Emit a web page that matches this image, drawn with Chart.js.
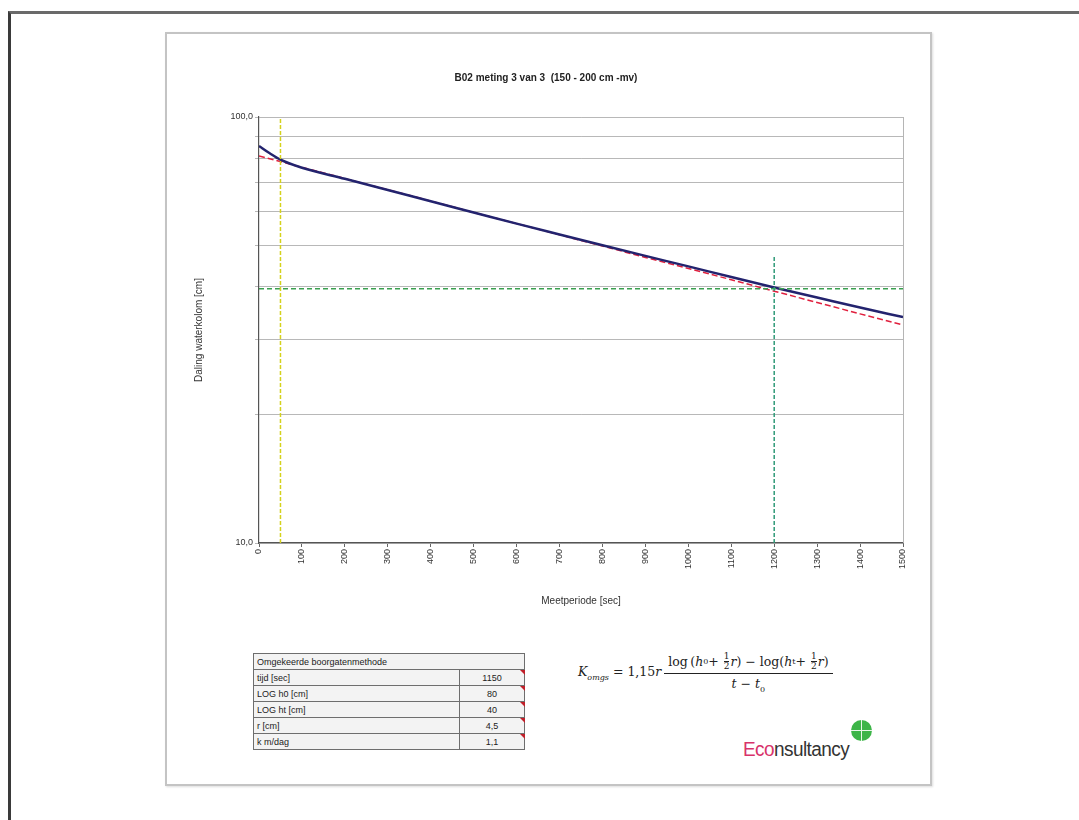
<!DOCTYPE html>
<html>
<head>
<meta charset="utf-8">
<script src="https://cdn.jsdelivr.net/npm/chart.js@4.4.1/dist/chart.umd.min.js"></script>
<style>
    html, body { margin: 0; padding: 0; background: #fff; }
    body { width: 1079px; height: 820px; position: relative; overflow: hidden; font-family: "Liberation Sans", Arial, sans-serif; }
    .sheet { position: absolute; left: 8px; top: 11px; width: 1100px; height: 840px; border-left: 3px solid #3a3a3a; border-top: 3px solid #6a6a6a; }
    .frame { position: absolute; left: 165px; top: 32px; width: 763px; height: 750px; border: 2px solid #c4c4c4; box-shadow: 1px 1px 2px #ddd; }
    #chartWrap { position: absolute; left: 167px; top: 34px; width: 763px; height: 608px; }
    table.params { position: absolute; left: 253px; top: 653px; width: 272px; border-collapse: collapse; font-size: 9px; color: #222; }
    table.params td { border: 1px solid #6e6e6e; height: 15px; padding: 0 3px; background: #f3f3f3; position: relative; }
    table.params td.num { text-align: center; width: 58px; }
    table.params td.num::after { content: ""; position: absolute; right: -1px; top: 0; border-top: 5px solid #c0202a; border-left: 5px solid transparent; }
    .formula { position: absolute; left: 578px; top: 652px; font-family: "DejaVu Serif", "Liberation Serif", serif; font-size: 12.5px; color: #222; display: flex; align-items: center; white-space: nowrap; }
    .formula i { font-style: italic; }
    .formula sub { font-size: 8px; }
    .frac { display: inline-flex; flex-direction: column; align-items: center; margin-left: 3px; }
    .frac .top { border-bottom: 1px solid #222; padding: 0 4px 2px; display: flex; align-items: center; }
    .frac .bot { padding-top: 2px; }
    .half { display: inline-flex; flex-direction: column; align-items: center; font-size: 9px; line-height: 9px; margin: 0 1px; }
    .half span:first-child { border-bottom: 1px solid #222; }
    .logo { position: absolute; left: 743px; top: 738px; font-size: 20px; color: #333; letter-spacing: -0.6px; transform: scaleX(0.95); transform-origin: left; }
    .logo b { color: #d8336a; font-weight: normal; }
    .clover { position: absolute; left: 851px; top: 720px; width: 21px; height: 21px; border-radius: 50%; background: #3db548; }
    .clover::before { content: ""; position: absolute; left: 10px; top: 0; width: 1px; height: 21px; background: #e9f7e9; }
    .clover::after { content: ""; position: absolute; left: 0; top: 10px; width: 21px; height: 1px; background: #e9f7e9; }
</style>
</head>
<body>
<div class="sheet"></div>
<div class="frame"></div>
<div id="chartWrap"><canvas id="chart"></canvas></div>

<table class="params">
    <tr><td colspan="2">Omgekeerde boorgatenmethode</td></tr>
    <tr><td>tijd [sec]</td><td class="num">1150</td></tr>
    <tr><td>LOG h0 [cm]</td><td class="num">80</td></tr>
    <tr><td>LOG ht [cm]</td><td class="num">40</td></tr>
    <tr><td>r [cm]</td><td class="num">4,5</td></tr>
    <tr><td>k m/dag</td><td class="num">1,1</td></tr>
</table>

<div class="formula">
    <span><i>K</i><sub><i>omgs</i></sub> = 1,15<i>r</i></span>
    <span class="frac">
        <span class="top">log&thinsp;(<i>h</i><sub>0</sub> +&nbsp;<span class="half"><span>1</span><span>2</span></span><i>r</i>)&nbsp;&minus;&nbsp;log(<i>h</i><sub>t</sub> +&nbsp;<span class="half"><span>1</span><span>2</span></span><i>r</i>)</span>
        <span class="bot"><i>t</i> &minus; <i>t</i><sub>0</sub></span>
    </span>
</div>

<div class="clover"></div>
<div class="logo"><b>Eco</b>nsultancy</div>

<script>
// measured drop of the water column (cm) against time (sec)
const measuredTime = [0, 25, 50, 100, 200, 300, 400, 500, 600, 700, 800, 900, 1000, 1100, 1200, 1300, 1400, 1500];
const measuredDrop = [85.5, 82.2, 79.4, 76.0, 71.6, 67.4, 63.4, 59.7, 56.2, 53.0, 50.0, 47.2, 44.6, 42.1, 39.8, 37.7, 35.7, 33.9];

// fitted line (dashed red)
const fitTime = [0, 100, 200, 300, 400, 500, 600, 700, 800, 900, 1000, 1100, 1200, 1300, 1400, 1500];
const fitDrop = [81.0, 76.2, 71.7, 67.5, 63.5, 59.7, 56.2, 52.9, 49.8, 46.8, 44.1, 41.5, 39.0, 36.7, 34.5, 32.5];

// reading markers
const startTime = [50, 50];
const startRange = [10, 100];
const endTime = [1200, 1200];
const endRange = [10, 47];
const levelTime = [0, 1500];
const levelDrop = [39.5, 39.5];

const yTicks = [10, 20, 30, 40, 50, 60, 70, 80, 90, 100];

const toPoints = (xs, ys) => xs.map((x, i) => ({ x, y: ys[i] }));

const rightEdge = {
    id: "rightEdge",
    afterDatasetsDraw(chart) {
        const { ctx, chartArea } = chart;
        ctx.save();
        ctx.strokeStyle = "#b5b5b5";
        ctx.lineWidth = 1;
        ctx.beginPath();
        ctx.moveTo(chartArea.right + 0.5, chartArea.top);
        ctx.lineTo(chartArea.right + 0.5, chartArea.bottom);
        ctx.stroke();
        ctx.restore();
    },
};

Chart.defaults.font.family = '"Liberation Sans", Arial, sans-serif';
Chart.defaults.color = "#333";

new Chart(document.getElementById("chart"), {
    type: "line",
    data: {
        datasets: [
            {
                label: "Start",
                data: toPoints(startTime, startRange),
                borderColor: "#d4d21c",
                borderWidth: 1.5,
                borderDash: [4, 2],
                pointRadius: 0,
            },
            {
                label: "Eind",
                data: toPoints(endTime, endRange),
                borderColor: "#2f9a78",
                borderWidth: 1.5,
                borderDash: [4, 2],
                pointRadius: 0,
            },
            {
                label: "Niveau",
                data: toPoints(levelTime, levelDrop),
                borderColor: "#3aa050",
                borderWidth: 1.5,
                borderDash: [5, 3],
                pointRadius: 0,
            },
            {
                label: "Meting",
                data: toPoints(measuredTime, measuredDrop),
                borderColor: "#23236e",
                borderWidth: 2.5,
                cubicInterpolationMode: "monotone",
                pointRadius: 0,
            },
            {
                label: "Fit",
                data: toPoints(fitTime, fitDrop),
                borderColor: "#e0203e",
                borderWidth: 1.5,
                borderDash: [6, 3],
                pointRadius: 0,
            },
        ],
    },
    options: {
        responsive: true,
        maintainAspectRatio: false,
        animation: false,
        layout: { padding: { left: 22, right: 27, top: 0, bottom: 31 } },
        plugins: {
            legend: { display: false },
            tooltip: { enabled: false },
            title: {
                display: true,
                text: "B02 meting 3 van 3  (150 - 200 cm -mv)",
                font: { size: 10, weight: "bold" },
                color: "#222",
                padding: { top: 38, bottom: 33 },
            },
        },
        scales: {
            x: {
                type: "linear",
                min: 0,
                max: 1500,
                afterFit: (scale) => { scale.height = 68; },
                ticks: {
                    stepSize: 100,
                    minRotation: 90,
                    maxRotation: 90,
                    font: { size: 9 },
                    padding: 2,
                    callback: (value) => String(value),
                },
                grid: { drawOnChartArea: false, drawTicks: true, tickLength: 4, color: "#666" },
                border: { color: "#555", width: 1.2 },
                title: { display: true, text: "Meetperiode [sec]", font: { size: 10 }, padding: { top: 2, bottom: 4 } },
            },
            y: {
                type: "logarithmic",
                min: 10,
                max: 100,
                afterFit: (scale) => { scale.width = 70; },
                afterBuildTicks: (scale) => { scale.ticks = yTicks.map((value) => ({ value })); },
                ticks: {
                    font: { size: 9 },
                    padding: 2,
                    callback: (value) => (value === 10 || value === 100 ? value.toFixed(1).replace(".", ",") : ""),
                },
                grid: { color: "#b8b8b8", tickLength: 4 },
                border: { color: "#555", width: 1.2 },
                title: { display: true, text: "Daling waterkolom [cm]", font: { size: 10 }, padding: { top: 4, bottom: 4 } },
            },
        },
    },
    plugins: [rightEdge],
});
</script>
</body>
</html>
